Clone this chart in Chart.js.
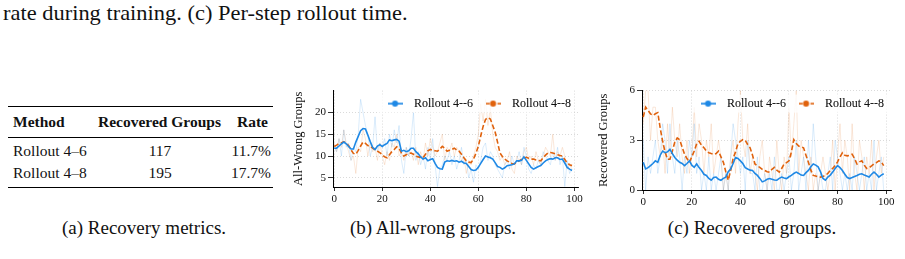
<!DOCTYPE html>
<html>
<head>
<meta charset="utf-8">
<script src="https://cdn.jsdelivr.net/npm/chart.js@4/dist/chart.umd.min.js"></script>
<style>
  html, body { margin: 0; padding: 0; background: #fff; }
  body { width: 905px; height: 259px; position: relative; overflow: hidden; }
  .t { position: absolute; white-space: nowrap; font-family: 'Liberation Serif', serif; line-height: 1; color: #111; }
  .rule { position: absolute; background: #000; }
  .b { font-weight: bold; }
  canvas { position: absolute; }
</style>
</head>
<body>

<div class="t" style="left:3px;top:1.6px;font-size:22px;transform:scaleX(1.02);transform-origin:0 0;">rate during training. (c) Per-step rollout time.</div>

<!-- (a) table -->
<div class="rule" style="left:8px;top:106px;width:265px;height:1.4px"></div>
<div class="t b" style="left:13px;top:114px;font-size:15.5px;">Method</div>
<div class="t b" style="left:98px;top:114px;font-size:15.5px;">Recovered Groups</div>
<div class="t b" style="left:237px;top:114px;font-size:15.5px;">Rate</div>
<div class="rule" style="left:8px;top:136.5px;width:265px;height:0.9px"></div>
<div class="t" style="left:13px;top:143px;font-size:15.5px;">Rollout 4–6</div>
<div class="t" style="left:160px;top:143px;font-size:15.5px;transform:translateX(-50%)">117</div>
<div class="t" style="right:634px;top:143px;font-size:15.5px;">11.7%</div>
<div class="t" style="left:13px;top:165px;font-size:15.5px;">Rollout 4–8</div>
<div class="t" style="left:160px;top:165px;font-size:15.5px;transform:translateX(-50%)">195</div>
<div class="t" style="right:634px;top:165px;font-size:15.5px;">17.7%</div>
<div class="rule" style="left:8px;top:187px;width:265px;height:1.4px"></div>

<canvas id="chartB" width="310" height="130" style="left:280px;top:82px"></canvas>
<canvas id="chartC" width="310" height="130" style="left:590px;top:82px"></canvas>

<div class="t" style="left:144px;top:218px;font-size:19px;transform:translateX(-50%)">(a) Recovery metrics.</div>
<div class="t" style="left:433px;top:218px;font-size:19px;transform:translateX(-50%)">(b) All-wrong groups.</div>
<div class="t" style="left:752px;top:218px;font-size:19px;transform:translateX(-50%)">(c) Recovered groups.</div>

<script>
// Training steps on the x axis
const steps = Array.from({ length: 100 }, (_, i) => i);
const xTicks = [0, 20, 40, 60, 80, 100];
const seriesNames = ['Rollout 4--6', 'Rollout 4--8'];

// (b) All-wrong groups: smoothed curves
const wrongSmooth46 = [
  11.8, 11.8, 12.3, 12.8, 13.2, 12.8, 12.2, 11.6, 11.6, 13.2,
  14.5, 15.8, 16.3, 16.2, 14.8, 13.3, 12.0, 11.5, 12.3, 12.6,
  12.2, 12.6, 12.9, 13.7, 13.5, 13.7, 13.8, 13.4, 11.1, 11.3,
  11.0, 11.2, 11.8, 11.8, 11.0, 10.5, 9.8, 9.3, 9.6, 8.9,
  9.2, 9.4, 8.3, 7.4, 7.1, 7.0, 8.6, 8.9, 8.8, 9.0,
  8.8, 8.9, 8.6, 8.8, 8.4, 8.3, 7.6, 6.9, 6.7, 6.8,
  7.4, 8.3, 9.2, 10.0, 9.8, 9.6, 9.3, 8.5, 7.6, 7.4,
  7.0, 7.3, 7.8, 7.9, 8.0, 8.2, 8.9, 8.9, 9.0, 9.8,
  9.0, 8.2, 7.4, 7.0, 7.3, 7.6, 7.8, 8.4, 8.9, 9.2,
  9.4, 9.3, 9.6, 9.6, 9.2, 9.3, 8.4, 7.4, 7.0, 6.7
];
const wrongSmooth48 = [
  12.2, 12.5, 12.9, 13.0, 13.3, 12.9, 12.4, 11.4, 10.6, 10.4,
  11.3, 12.3, 13.2, 12.9, 12.4, 12.2, 11.8, 11.4, 11.1, 10.8,
  10.3, 9.8, 9.6, 10.3, 11.0, 11.5, 12.1, 11.8, 10.7, 10.0,
  10.3, 10.6, 10.7, 10.4, 10.0, 9.8, 9.7, 9.6, 10.4, 11.2,
  11.5, 11.3, 11.2, 11.1, 11.6, 12.2, 11.8, 11.1, 11.3, 11.5,
  11.8, 11.4, 11.1, 10.4, 9.6, 8.9, 8.6, 8.5, 9.3, 10.6,
  12.2, 14.6, 16.8, 18.4, 18.8, 18.5, 17.0, 15.5, 13.2, 10.7,
  9.9, 9.3, 8.9, 8.6, 8.3, 8.2, 8.6, 8.9, 9.2, 9.6,
  9.7, 9.5, 9.3, 9.3, 9.1, 9.0, 8.9, 9.6, 10.2, 10.7,
  10.8, 10.7, 10.5, 10.3, 10.1, 10.0, 9.2, 8.4, 8.0, 7.8
];
// (b) raw per-step counts (faint lines)
const wrongRaw46 = [
  12, 11, 14, 10, 16, 12, 13, 9, 12, 11,
  15, 23, 20, 17, 15, 10, 12, 19, 11, 13,
  12, 14, 10, 15, 12, 16, 13, 17, 9, 6,
  12, 10, 14, 20, 9, 11, 8, 10, 7, 12,
  9, 14, 8, 3, 7, 8, 10, 9, 11, 8,
  10, 7, 9, 12, 8, 9, 5, 7, 4, 8,
  7, 9, 12, 13, 9, 11, 10, 8, 7, 6,
  5, 8, 9, 7, 10, 8, 9, 11, 8, 12,
  10, 7, 6, 8, 7, 9, 8, 11, 10, 9,
  8, 11, 9, 12, 8, 10, 3, 9, 6, 7
];
const wrongRaw48 = [
  13, 11, 14, 12, 16, 13, 11, 9, 10, 6,
  12, 11, 16, 14, 10, 13, 11, 12, 9, 13,
  10, 8, 11, 9, 13, 12, 15, 10, 11, 9,
  12, 10, 11, 9, 12, 8, 11, 9, 13, 10,
  14, 12, 10, 11, 13, 15, 9, 12, 11, 13,
  10, 12, 11, 9, 10, 6, 9, 8, 10, 12,
  15, 22, 18, 23, 17, 21, 15, 12, 11, 9,
  10, 8, 9, 11, 7, 6, 10, 9, 8, 11,
  12, 9, 10, 8, 11, 9, 8, 10, 12, 11,
  10, 15, 9, 11, 10, 12, 10, 7, 8, 7
];
const wrongYTicks = [5, 10, 15, 20];

// (c) Recovered groups: smoothed curves
const recSmooth46 = [
  1.67, 1.27, 1.35, 1.47, 1.6, 1.76, 1.67, 2.1, 2.35, 2.25,
  2.3, 2.45, 2.2, 1.96, 1.8, 1.67, 1.6, 1.47, 1.6, 1.76,
  1.5, 1.37, 1.57, 1.35, 1.18, 0.95, 0.88, 0.7, 0.59, 0.75,
  0.78, 0.65, 0.59, 0.7, 0.78, 1.1, 1.27, 1.6, 1.96, 1.9,
  1.76, 1.6, 1.35, 1.27, 1.2, 1.18, 1.0, 0.88, 0.7, 0.49,
  0.55, 0.65, 0.69, 0.65, 0.6, 0.59, 0.7, 0.78, 0.72, 0.69,
  0.8, 0.88, 1.0, 1.08, 1.0, 0.9, 0.88, 1.05, 1.18, 1.4,
  1.57, 1.5, 1.4, 1.1, 0.7, 0.59, 0.78, 0.9, 1.08, 1.3,
  1.47, 1.35, 1.18, 0.95, 0.75, 0.69, 0.75, 0.82, 0.88, 0.95,
  0.98, 0.9, 0.85, 0.78, 0.95, 1.08, 0.95, 0.78, 0.9, 0.98
];
const recSmooth48 = [
  4.4, 5.0, 4.8, 4.6, 4.5, 4.6, 4.67, 3.73, 2.94, 2.3,
  1.86, 1.86, 2.35, 2.9, 3.14, 3.04, 2.6, 2.16, 1.9, 1.67,
  2.0, 2.35, 2.8, 2.94, 2.7, 2.55, 2.35, 2.25, 2.2, 2.16,
  2.2, 2.35, 2.0, 1.67, 1.1, 0.59, 1.18, 1.9, 2.3, 2.8,
  2.94, 3.04, 3.0, 2.75, 2.55, 2.1, 1.57, 1.45, 1.37, 1.25,
  1.18, 1.1, 1.08, 1.25, 1.37, 1.2, 1.08, 1.3, 1.57, 1.65,
  1.76, 2.3, 3.04, 2.8, 2.65, 2.6, 2.55, 2.1, 1.67, 1.2,
  0.88, 0.85, 0.8, 0.78, 0.82, 0.88, 1.0, 1.18, 1.3, 1.47,
  1.7, 2.0, 2.25, 2.1, 2.06, 2.1, 2.16, 1.9, 1.57, 1.7,
  1.76, 1.5, 1.3, 1.35, 1.45, 1.57, 1.65, 1.76, 1.7, 1.47
];
// (c) raw per-step counts (faint lines)
const recRaw46 = [
  3, 0, 2, 1, 2, 3, 1, 2, 4, 3,
  1, 4, 2, 1, 3, 2, 0, 2, 1, 3,
  2, 4, 1, 2, 0, 1, 0, 2, 0, 1,
  0, 1, 2, 0, 1, 0, 2, 4, 3, 2,
  1, 2, 0, 3, 1, 1, 0, 2, 0, 0,
  1, 0, 1, 0, 2, 0, 0, 1, 0, 1,
  2, 0, 1, 3, 0, 1, 2, 0, 3, 1,
  4, 2, 0, 1, 0, 0, 1, 2, 0, 3,
  2, 1, 0, 1, 0, 1, 0, 2, 1, 0,
  1, 2, 0, 1, 0, 3, 0, 1, 2, 0
];
const recRaw48 = [
  4, 6, 6, 3, 5, 5, 3, 2, 3, 1,
  4, 2, 5, 3, 2, 4, 2, 1, 3, 1,
  2, 5, 2, 4, 3, 1, 3, 2, 4, 1,
  2, 3, 2, 0, 1, 0, 2, 3, 1, 4,
  6, 3, 2, 4, 1, 2, 1, 0, 2, 3,
  1, 0, 2, 1, 0, 3, 1, 0, 2, 1,
  5, 2, 4, 6, 1, 3, 2, 1, 0, 2,
  0, 1, 0, 1, 2, 1, 0, 1, 3, 0,
  2, 4, 1, 3, 2, 0, 4, 1, 0, 3,
  2, 0, 2, 1, 3, 0, 2, 3, 1, 2
];
const recYTicks = [0, 3, 6];

const BLUE = '#1e88e5';
const ORANGE = '#e0620d';
const FONT = 'Liberation Serif';

// Pair each value with its step for the linear x axis
const toPoints = (values) => values.map((v, i) => ({ x: steps[i], y: v }));

// Small line+marker image used as the legend handle
function legendHandle(color, dashed) {
    const c = document.createElement('canvas');
    c.width = 15;
    c.height = 8;
    const g = c.getContext('2d');
    g.strokeStyle = color;
    g.lineWidth = 1.6;
    if (dashed) g.setLineDash([4, 2]);
    g.beginPath();
    g.moveTo(0, 4);
    g.lineTo(15, 4);
    g.stroke();
    g.fillStyle = color;
    g.beginPath();
    g.arc(7.5, 4, 3, 0, Math.PI * 2);
    g.fill();
    return c;
}

// Put the legend inside the plot (top right) and draw it over the lines
const legendInside = {
    id: 'legendInside',
    beforeInit(chart) {
        const fit = chart.legend.fit;
        chart.legend.fit = function () {
            fit.bind(chart.legend)();
            this.height = 0;
        };
    },
    afterLayout(chart) {
        const lg = chart.legend;
        lg.height = 28;
        lg.bottom = lg.top + 28;
    },
    afterDatasetsDraw(chart) {
        const lg = chart.legend;
        const boxes = lg.legendHitBoxes;
        if (!boxes || !boxes.length) return;
        const left = Math.min(...boxes.map((b) => b.left)) - 3;
        const right = Math.max(...boxes.map((b) => b.left + b.width)) + 3;
        const top = Math.min(...boxes.map((b) => b.top)) - 3;
        const bottom = Math.max(...boxes.map((b) => b.top + b.height)) + 3;
        const ctx = chart.ctx;
        ctx.save();
        ctx.fillStyle = 'rgba(255,255,255,0.8)';
        ctx.fillRect(left, top, right - left, bottom - top);
        ctx.restore();
        lg.draw();
    }
};

function drawPanel(id, s) {
    const ctx = document.getElementById(id).getContext('2d');
    return new Chart(ctx, {
        type: 'line',
        data: {
            datasets: [
                { label: seriesNames[0], data: toPoints(s.smooth46), borderColor: BLUE, borderWidth: 1.6,
                  pointRadius: 0, pointStyle: legendHandle(BLUE, false) },
                { label: seriesNames[1], data: toPoints(s.smooth48), borderColor: ORANGE, borderWidth: 1.6,
                  borderDash: [5, 2.5], pointRadius: 0, pointStyle: legendHandle(ORANGE, true) },
                { label: 'raw 4--6', data: toPoints(s.raw46), borderColor: 'rgba(30,136,229,0.16)',
                  borderWidth: 1, pointRadius: 0 },
                { label: 'raw 4--8', data: toPoints(s.raw48), borderColor: 'rgba(224,98,13,0.15)',
                  borderWidth: 1, pointRadius: 0 }
            ]
        },
        options: {
            animation: false,
            responsive: false,
            events: [],
            layout: { padding: s.padding },
            plugins: {
                legend: {
                    align: 'end',
                    labels: {
                        filter: (item) => seriesNames.includes(item.text),
                        usePointStyle: true,
                        pointStyleWidth: 26,
                        padding: 7,
                        color: '#111',
                        font: { family: FONT, size: 12 }
                    }
                },
                tooltip: { enabled: false }
            },
            scales: {
                x: {
                    type: 'linear',
                    min: -0.5,
                    max: s.xMax,
                    afterBuildTicks: (axis) => { axis.ticks = xTicks.map((v) => ({ value: v })); },
                    afterFit: (axis) => { axis.height = s.xAxisHeight; },
                    grid: { color: '#d0d0d0', lineWidth: 0.8, tickColor: '#000', tickLength: 4, tickWidth: 0.8 },
                    border: { color: '#000', width: 1, dash: [1, 2] },
                    ticks: { color: '#111', padding: 2, maxRotation: 0, font: { family: FONT, size: 11 } }
                },
                y: {
                    min: s.yMin,
                    max: s.yMax,
                    afterBuildTicks: (axis) => { axis.ticks = s.yTicks.map((v) => ({ value: v })); },
                    afterFit: (axis) => { axis.width = s.yAxisWidth; },
                    grid: { color: '#d0d0d0', lineWidth: 0.8, tickColor: '#000', tickLength: 5, tickWidth: 0.8 },
                    border: { color: '#000', width: 1, dash: [1, 2] },
                    ticks: { color: '#111', padding: 2, font: { family: FONT, size: 11 } },
                    title: {
                        display: true,
                        text: s.yTitle,
                        color: '#111',
                        padding: { top: s.titlePad, bottom: 0 },
                        font: { family: FONT, size: 12.5 }
                    }
                }
            }
        },
        plugins: [legendInside]
    });
}

drawPanel('chartB', {
    smooth46: wrongSmooth46, smooth48: wrongSmooth48, raw46: wrongRaw46, raw48: wrongRaw48,
    yMin: 2.9, yMax: 25, yTicks: wrongYTicks, yTitle: 'All-Wrong Groups', xMax: 101.5,
    padding: { left: 0, right: 12, top: 5, bottom: 0 }, yAxisWidth: 53, xAxisHeight: 25, titlePad: 11.5
});

drawPanel('chartC', {
    smooth46: recSmooth46, smooth48: recSmooth48, raw46: recRaw46, raw48: recRaw48,
    yMin: 0, yMax: 6, yTicks: recYTicks, yTitle: 'Recovered Groups', xMax: 102,
    padding: { left: 0, right: 9, top: 6, bottom: 0 }, yAxisWidth: 52, xAxisHeight: 22, titlePad: 6.5
});
</script>
</body>
</html>
